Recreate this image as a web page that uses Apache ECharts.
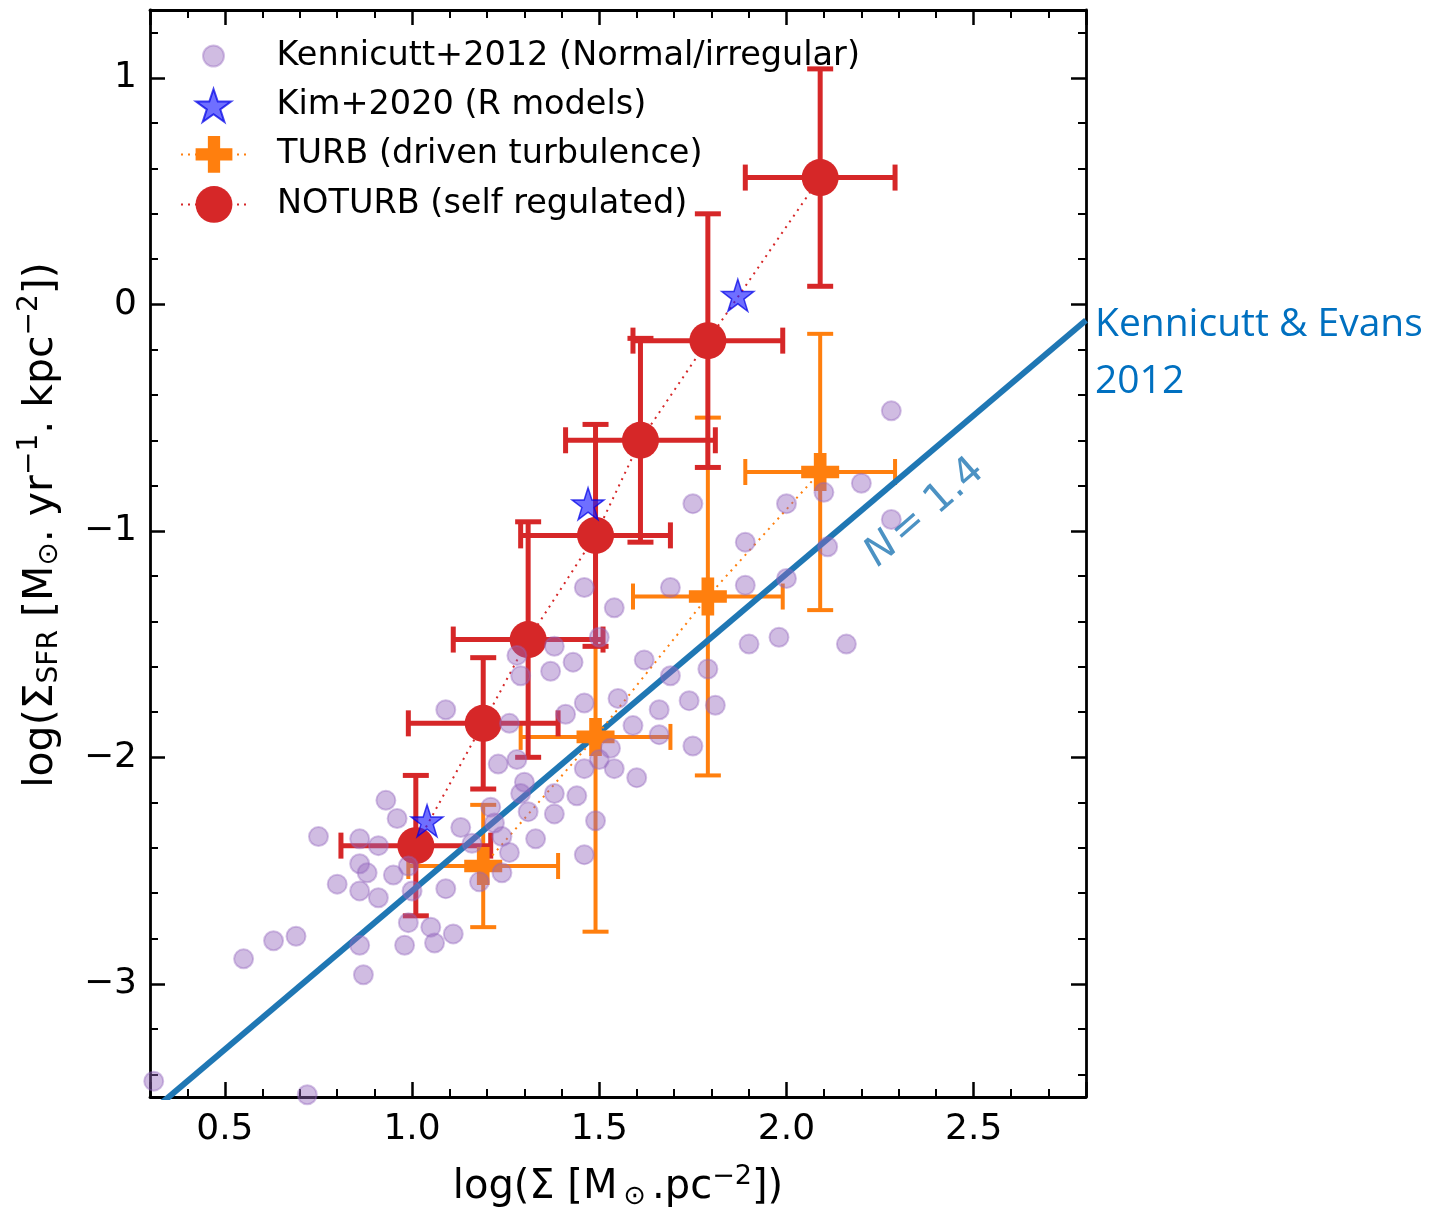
<!DOCTYPE html>
<html>
<head>
<meta charset="utf-8">
<script src="https://cdn.jsdelivr.net/npm/echarts@6/dist/echarts.min.js"></script>
<style>
  html, body { margin: 0; padding: 0; background: #fff; }
  #chart { width: 1448px; height: 1209px; }
</style>
</head>
<body>
<div id="chart"></div>
<script>
// Kennicutt+2012 (normal / irregular galaxies)
const kennX = [0.31, 0.72, 0.55, 0.63, 0.69, 0.86, 0.87, 0.98, 0.99, 1.05, 1.06, 1.11, 0.75, 0.80, 0.86, 0.86,
  0.88, 0.86, 0.91, 0.93, 0.96, 0.91, 0.95, 0.99, 1.00, 1.09, 1.09, 1.13, 1.16, 1.18, 1.21, 1.22, 1.24, 1.24,
  1.26, 1.23, 1.28, 1.30, 1.29, 1.31, 1.38, 1.38, 1.33, 1.26, 1.29, 1.28, 1.37, 1.38, 1.43, 1.46, 1.54, 1.50,
  1.62, 1.69, 1.75, 1.89, 1.89, 2.00, 2.00, 2.10, 2.11, 2.20, 2.28, 2.28, 1.90, 1.98, 2.16, 1.79, 1.69, 1.55,
  1.46, 1.41, 1.66, 1.74, 1.81, 1.59, 1.66, 1.53, 1.75, 1.46, 1.54, 1.60, 1.50, 1.44, 1.46, 1.49];
const kennY = [-3.43, -3.49, -2.89, -2.81, -2.79, -2.83, -2.96, -2.83, -2.73, -2.75, -2.82, -2.78, -2.35, -2.56,
  -2.36, -2.47, -2.51, -2.59, -2.62, -2.19, -2.27, -2.39, -2.52, -2.48, -2.59, -2.58, -1.79, -2.31, -2.38, -2.55,
  -2.22, -2.29, -2.35, -2.51, -2.42, -2.03, -2.01, -2.11, -2.16, -2.24, -2.16, -2.25, -2.36, -1.85, -1.64, -1.55,
  -1.62, -1.51, -1.58, -1.25, -1.34, -1.47, -1.57, -1.25, -0.88, -1.05, -1.24, -0.88, -1.21, -0.83, -1.07, -0.79,
  -0.47, -0.95, -1.50, -1.47, -1.50, -1.61, -1.64, -1.74, -1.76, -1.81, -1.79, -1.75, -1.77, -1.86, -1.90, -1.96,
  -1.95, -2.05, -2.05, -2.09, -2.01, -2.17, -2.43, -2.28];

// Kim+2020 (R models)
const kimX = [1.04, 1.47, 1.87];
const kimY = [-2.28, -0.88, 0.04];

// TURB (driven turbulence)
const turbX = [1.19, 1.49, 1.79, 2.09];
const turbY = [-2.48, -1.91, -1.29, -0.74];
const turbXErr = [0.2, 0.2, 0.2, 0.2];
const turbYErr = [0.27, 0.86, 0.79, 0.61];

// NOTURB (self regulated)
const noturbX = [1.01, 1.19, 1.31, 1.49, 1.61, 1.79, 2.09];
const noturbY = [-2.39, -1.85, -1.48, -1.02, -0.60, -0.16, 0.56];
const noturbXErr = [0.2, 0.2, 0.2, 0.2, 0.2, 0.2, 0.2];
const noturbYErr = [0.31, 0.29, 0.52, 0.49, 0.45, 0.56, 0.48];

// Kennicutt & Evans 2012 relation, N = 1.4 (end points)
const ksX = [0.3, 2.8];
const ksY = [-3.57, -0.07];
const ksLabelPos = [2.37, -0.92];

const names = [
  'Kennicutt+2012 (Normal/irregular)',
  'Kim+2020 (R models)',
  'TURB (driven turbulence)',
  'NOTURB (self regulated)'
];

const FONT = 'DejaVu Sans';
const RED = '#d62728';
const ORANGE = '#ff7f0e';
const STAR = 'path://M50,0 L61.8,35.1 L98.9,35.1 L68.8,56.9 L80.3,92 L50,70.3 L19.7,92 L31.2,56.9 L1.1,35.1 L38.2,35.1 Z';
const PLUS = 'path://M4,0 L8,0 L8,4 L12,4 L12,8 L8,8 L8,12 L4,12 L4,8 L0,8 L0,4 L4,4 Z';

const zip = (a, b) => a.map((v, i) => [v, b[i]]);
const errRows = (xs, ys, xe, ye) => xs.map((x, i) => [x, ys[i], x - xe[i], x + xe[i], ys[i] - ye[i], ys[i] + ye[i]]);

function errorBars(color, width) {
  return function (params, api) {
    const x = api.value(0), y = api.value(1);
    const c = api.coord([x, y]);
    const l = api.coord([api.value(2), y]);
    const r = api.coord([api.value(3), y]);
    const lo = api.coord([x, api.value(4)]);
    const hi = api.coord([x, api.value(5)]);
    const cap = 13;
    const seg = (x1, y1, x2, y2) => ({
      type: 'line',
      shape: { x1, y1, x2, y2 },
      style: { stroke: color, lineWidth: width }
    });
    return {
      type: 'group',
      children: [
        seg(l[0], c[1], r[0], c[1]),
        seg(c[0], lo[1], c[0], hi[1]),
        seg(l[0], c[1] - cap, l[0], c[1] + cap),
        seg(r[0], c[1] - cap, r[0], c[1] + cap),
        seg(c[0] - cap, lo[1], c[0] + cap, lo[1]),
        seg(c[0] - cap, hi[1], c[0] + cap, hi[1])
      ]
    };
  };
}

function frameAxis(position, extra) {
  const isBottomOrLeft = position === 'bottom' || position === 'left';
  return Object.assign({
    type: 'value',
    position: position,
    axisLine: { show: true, onZero: false, lineStyle: { color: '#000', width: 2.8 } },
    axisTick: { show: true, inside: true, length: 15, lineStyle: { color: '#000', width: 2.5 } },
    minorTick: { show: true, splitNumber: 5, length: 8, lineStyle: { color: '#000', width: 2 } },
    splitLine: { show: false },
    minorSplitLine: { show: false },
    axisLabel: { show: isBottomOrLeft }
  }, extra);
}

const xRange = { min: 0.3, max: 2.8, splitNumber: 5 };
const yRange = { min: -3.5, max: 1.3, splitNumber: 5 };

const tickLabel = {
  show: true,
  fontFamily: FONT,
  fontSize: 36,
  color: '#000',
  showMinLabel: false,
  showMaxLabel: false
};

const legendBase = {
  orient: 'vertical',
  padding: 0,
  itemWidth: 66,
  selectedMode: false,
  textStyle: { fontFamily: FONT, fontSize: 33.5, color: '#000', padding: [0, 0, 0, 25] }
};

const chart = echarts.init(document.getElementById('chart'));

chart.setOption({
  backgroundColor: '#fff',
  animation: false,
  grid: { left: 150, right: 362, top: 10, bottom: 112, outerBoundsMode: 'none', containLabel: false },
  legend: [
    Object.assign({}, legendBase, { data: [names[0]], left: 202, top: 39, itemHeight: 21 }),
    Object.assign({}, legendBase, { data: [names[1]], left: 195, top: 88, itemHeight: 33 }),
    Object.assign({}, legendBase, { data: [names[2]], left: 180, top: 136, itemHeight: 46 }),
    Object.assign({}, legendBase, { data: [names[3]], left: 180, top: 186, itemHeight: 46 })
  ],
  xAxis: [
    frameAxis('bottom', Object.assign({}, xRange, {
      axisLabel: Object.assign({}, tickLabel, { margin: 15, formatter: v => v.toFixed(1) }),
      name: '{a|log(Σ [M}{sub|⊙}{a|.pc}{sup|−2}{a|])}',
      nameLocation: 'middle',
      nameGap: 66,
      nameTextStyle: {
        rich: {
          a: { fontFamily: FONT, fontSize: 40, color: '#000' },
          sub: { fontFamily: FONT, fontSize: 27, color: '#000', padding: [18, 6, 0, 6] },
          sup: { fontFamily: FONT, fontSize: 27, color: '#000', padding: [0, 0, 22, 0] }
        }
      }
    })),
    frameAxis('top', xRange)
  ],
  yAxis: [
    frameAxis('left', Object.assign({}, yRange, {
      axisLabel: Object.assign({}, tickLabel, {
        margin: 13,
        formatter: v => (v < 0 ? '\u2212' + (-v) : String(v))
      })
    })),
    frameAxis('right', yRange)
  ],
  graphic: [
    {
      type: 'text',
      x: 41,
      y: 525,
      rotation: Math.PI / 2,
      style: {
        text: '{a|log(Σ}{sub|SFR}{a| [M}{sub|⊙}{a|. yr}{sup|−1}{a|. kpc}{sup|−2}{a|])}',
        align: 'center',
        verticalAlign: 'middle',
        rich: {
          a: { fontFamily: FONT, fontSize: 41, fill: '#000' },
          sub: { fontFamily: FONT, fontSize: 28, fill: '#000', padding: [18, 0, 0, 0] },
          sup: { fontFamily: FONT, fontSize: 28, fill: '#000', padding: [0, 0, 22, 0] }
        }
      }
    },
    {
      type: 'text',
      x: 1095,
      y: 296,
      style: {
        text: 'Kennicutt & Evans\n2012',
        fontFamily: 'Open Sans',
        fontSize: 39,
        lineHeight: 57,
        fill: '#0070c0',
        align: 'left',
        verticalAlign: 'top'
      }
    }
  ],
  series: [
    {
      name: 'TURB errors',
      type: 'custom',
      renderItem: errorBars(ORANGE, 4),
      encode: { x: 0, y: 1 },
      data: errRows(turbX, turbY, turbXErr, turbYErr),
      z: 2,
      silent: true
    },
    {
      name: 'NOTURB errors',
      type: 'custom',
      renderItem: errorBars(RED, 5),
      encode: { x: 0, y: 1 },
      data: errRows(noturbX, noturbY, noturbXErr, noturbYErr),
      z: 3,
      silent: true
    },
    {
      name: 'N = 1.4',
      type: 'line',
      data: zip(ksX, ksY),
      symbol: 'none',
      lineStyle: { color: '#1f77b4', width: 6 },
      z: 4,
      silent: true
    },
    {
      name: names[2],
      type: 'line',
      data: zip(turbX, turbY),
      symbol: PLUS,
      symbolSize: 38,
      itemStyle: { color: ORANGE },
      lineStyle: { color: ORANGE, width: 2, type: [2, 5] },
      z: 5,
      silent: true
    },
    {
      name: names[3],
      type: 'line',
      data: zip(noturbX, noturbY),
      symbol: 'circle',
      symbolSize: 37,
      itemStyle: { color: RED },
      lineStyle: { color: RED, width: 2, type: [2, 5] },
      z: 6,
      silent: true
    },
    {
      name: names[0],
      type: 'scatter',
      data: zip(kennX, kennY),
      symbol: 'circle',
      symbolSize: 19,
      itemStyle: { color: 'rgba(148,103,189,0.55)', borderColor: 'rgba(148,103,189,0.5)', borderWidth: 2 },
      z: 7,
      silent: true
    },
    {
      name: names[1],
      type: 'scatter',
      data: zip(kimX, kimY),
      symbol: STAR,
      symbolSize: 32,
      itemStyle: { color: 'rgba(30,30,255,0.8)', borderColor: 'rgba(0,0,230,0.9)', borderWidth: 1.5 },
      z: 8,
      silent: true
    },
    {
      name: 'N label',
      type: 'scatter',
      data: [ksLabelPos],
      symbolSize: 1,
      itemStyle: { color: 'rgba(0,0,0,0)' },
      label: {
        show: true,
        position: 'inside',
        rotate: 41,
        formatter: '{i|N} {n|= 1.4}',
        rich: {
          i: { fontFamily: FONT, fontSize: 40, fontStyle: 'italic', color: '#1f77b4' },
          n: { fontFamily: FONT, fontSize: 40, color: '#1f77b4' }
        }
      },
      z: 9,
      silent: true
    }
  ]
});
</script>
</body>
</html>
